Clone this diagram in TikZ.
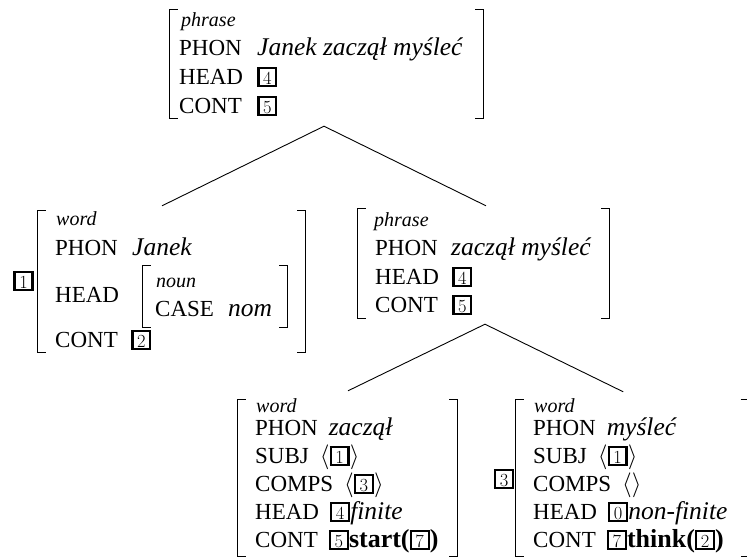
\documentclass[tikz,border=0pt]{standalone}
\usepackage{fontspec}
% keep the Latin Modern family for the boxed tags before switching the main font
\edef\tagfamily{\rmdefault}
\setmainfont{Liberation Serif}
\usetikzlibrary{calc,fit}

% boxed structure-sharing tags
\newcommand{\tagnum}{\fontfamily{\tagfamily}\fontsize{18.5}{20}\selectfont}
\newcommand{\tagbox}[1]{{\setlength{\fboxsep}{0pt}\setlength{\fboxrule}{2.3pt}%
  \fbox{\makebox[15.6pt]{\rule[-0.8pt]{0pt}{15.6pt}\tagnum #1}}}}
% sort labels, values, relations and lists
\newcommand{\sortname}[1]{{\fontsize{20}{24}\selectfont\itshape #1}}
\newcommand{\val}[1]{{\fontsize{25.5}{30}\selectfont\itshape #1}}
\newcommand{\rel}[1]{{\fontsize{26}{30}\selectfont\bfseries #1}}
\newcommand{\lst}[1]{$\langle$#1$\rangle$}
\newcommand{\gap}{\hspace{11pt}}

\tikzset{
  avmrow/.style={anchor=base west, inner sep=0pt, font=\fontsize{23}{27}\selectfont},
  tagrow/.style={anchor=center, inner sep=0pt, font=\fontsize{23}{27}\selectfont},
  avmframe/.style={inner sep=0pt, draw=none},
  brk/.style={line width=1.3pt},
  tree/.style={line width=0.9pt},
}

% square brackets round a frame node
\newcommand{\avmbrackets}[1]{%
  \draw[brk] ($(#1.north west)+(8,0)$) -- (#1.north west) -- (#1.south west) -- ($(#1.south west)+(8,0)$);
  \draw[brk] ($(#1.north east)+(-8,0)$) -- (#1.north east) -- (#1.south east) -- ($(#1.south east)+(-8,0)$);}

\begin{document}
\begin{tikzpicture}[x=1pt,y=-1pt]
\useasboundingbox (0,0) rectangle (747,558);

% ---------- mother: Janek zaczal myslec ----------
\node[avmframe, fit={(170,10) (483,118)}] (root) {};
\avmbrackets{root}
\node[avmrow] (root-sort) at (181,26) {\sortname{phrase}};
\node[avmrow] (root-phon) at (179,55) {PHON};
\node[avmrow] (root-phonv) at (257,55) {\val{Janek zaczął myśleć}};
\node[avmrow] (root-head) at (179,84) {HEAD};
\node[avmrow] (root-headv) at (257,84) {\tagbox{4}};
\node[avmrow] (root-cont) at (179,113) {CONT};
\node[avmrow] (root-contv) at (257,113) {\tagbox{5}};

% ---------- subject: Janek ----------
\node[tagrow] (subj-tag) at (23.5,281) {\tagbox{1}};
\node[avmframe, fit={(38,211) (305,352)}] (subj) {};
\avmbrackets{subj}
\node[avmrow] (subj-sort) at (56,225) {\sortname{word}};
\node[avmrow] (subj-phon) at (55,255) {PHON};
\node[avmrow] (subj-phonv) at (132,255) {\val{Janek}};
\node[avmrow] (subj-head) at (55,302) {HEAD};
\node[avmframe, fit={(143,266) (287,327)}] (noun) {};
\avmbrackets{noun}
\node[avmrow] (noun-sort) at (156,287) {\sortname{noun}};
\node[avmrow] (noun-case) at (155,316) {CASE};
\node[avmrow] (noun-casev) at (228,316) {\val{nom}};
\node[avmrow] (subj-cont) at (55,347) {CONT};
\node[avmrow] (subj-contv) at (131,347) {\tagbox{2}};

% ---------- head daughter: zaczal myslec ----------
\node[avmframe, fit={(358,209) (609,318)}] (vp) {};
\avmbrackets{vp}
\node[avmrow] (vp-sort) at (374,226) {\sortname{phrase}};
\node[avmrow] (vp-phon) at (375,255) {PHON};
\node[avmrow] (vp-phonv) at (451,255) {\val{zaczął myśleć}};
\node[avmrow] (vp-head) at (375,284) {HEAD};
\node[avmrow] (vp-headv) at (452,284) {\tagbox{4}};
\node[avmrow] (vp-cont) at (375,312) {CONT};
\node[avmrow] (vp-contv) at (452,312) {\tagbox{5}};

% ---------- verb: zaczal ----------
\node[avmframe, fit={(238,400) (457,556)}] (verb) {};
\avmbrackets{verb}
\node[avmrow] (verb-sort) at (256,412) {\sortname{word}};
\node[avmrow] (verb-phon) at (255,435) {PHON\gap\val{zaczął}};
\node[avmrow] (verb-subj) at (255,463) {SUBJ\gap\lst{\tagbox{1}}};
\node[avmrow] (verb-comps) at (255,491) {COMPS\gap\lst{\tagbox{3}}};
\node[avmrow] (verb-head) at (255,519) {HEAD\gap\tagbox{4}\val{finite}};
\node[avmrow] (verb-cont) at (255,547) {CONT\gap\tagbox{5}\rel{start(}\tagbox{7}\rel{)}};

% ---------- complement: myslec ----------
\node[tagrow] (comp-tag) at (504,479) {\tagbox{3}};
\node[avmframe, fit={(516,400) (748.5,556)}] (comp) {};
\avmbrackets{comp}
\node[avmrow] (comp-sort) at (534,412) {\sortname{word}};
\node[avmrow] (comp-phon) at (533,435) {PHON\gap\val{myśleć}};
\node[avmrow] (comp-subj) at (533,463) {SUBJ\gap\lst{\tagbox{1}}};
\node[avmrow] (comp-comps) at (533,491) {COMPS\gap\lst{}};
\node[avmrow] (comp-head) at (533,519) {HEAD\gap\tagbox{0}\val{non-finite}};
\node[avmrow] (comp-cont) at (533,547) {CONT\gap\tagbox{7}\rel{think(}\tagbox{2}\rel{)}};

% ---------- tree branches ----------
\coordinate (root-foot) at ($(root.south)+(-2.5,8)$);
\coordinate (subj-top) at ($(subj.north)+(-9.5,-5)$);
\coordinate (vp-top) at ($(vp.north)+(2.5,-3)$);
\draw[tree] (subj-top) -- (root-foot) -- (vp-top);

\coordinate (vp-foot) at ($(vp.south)+(1.5,6)$);
\coordinate (verb-top) at ($(verb.north)+(0.5,-9)$);
\coordinate (comp-top) at ($(comp.north)+(-9,-8)$);
\draw[tree] (verb-top) -- (vp-foot) -- (comp-top);
\end{tikzpicture}
\end{document}
